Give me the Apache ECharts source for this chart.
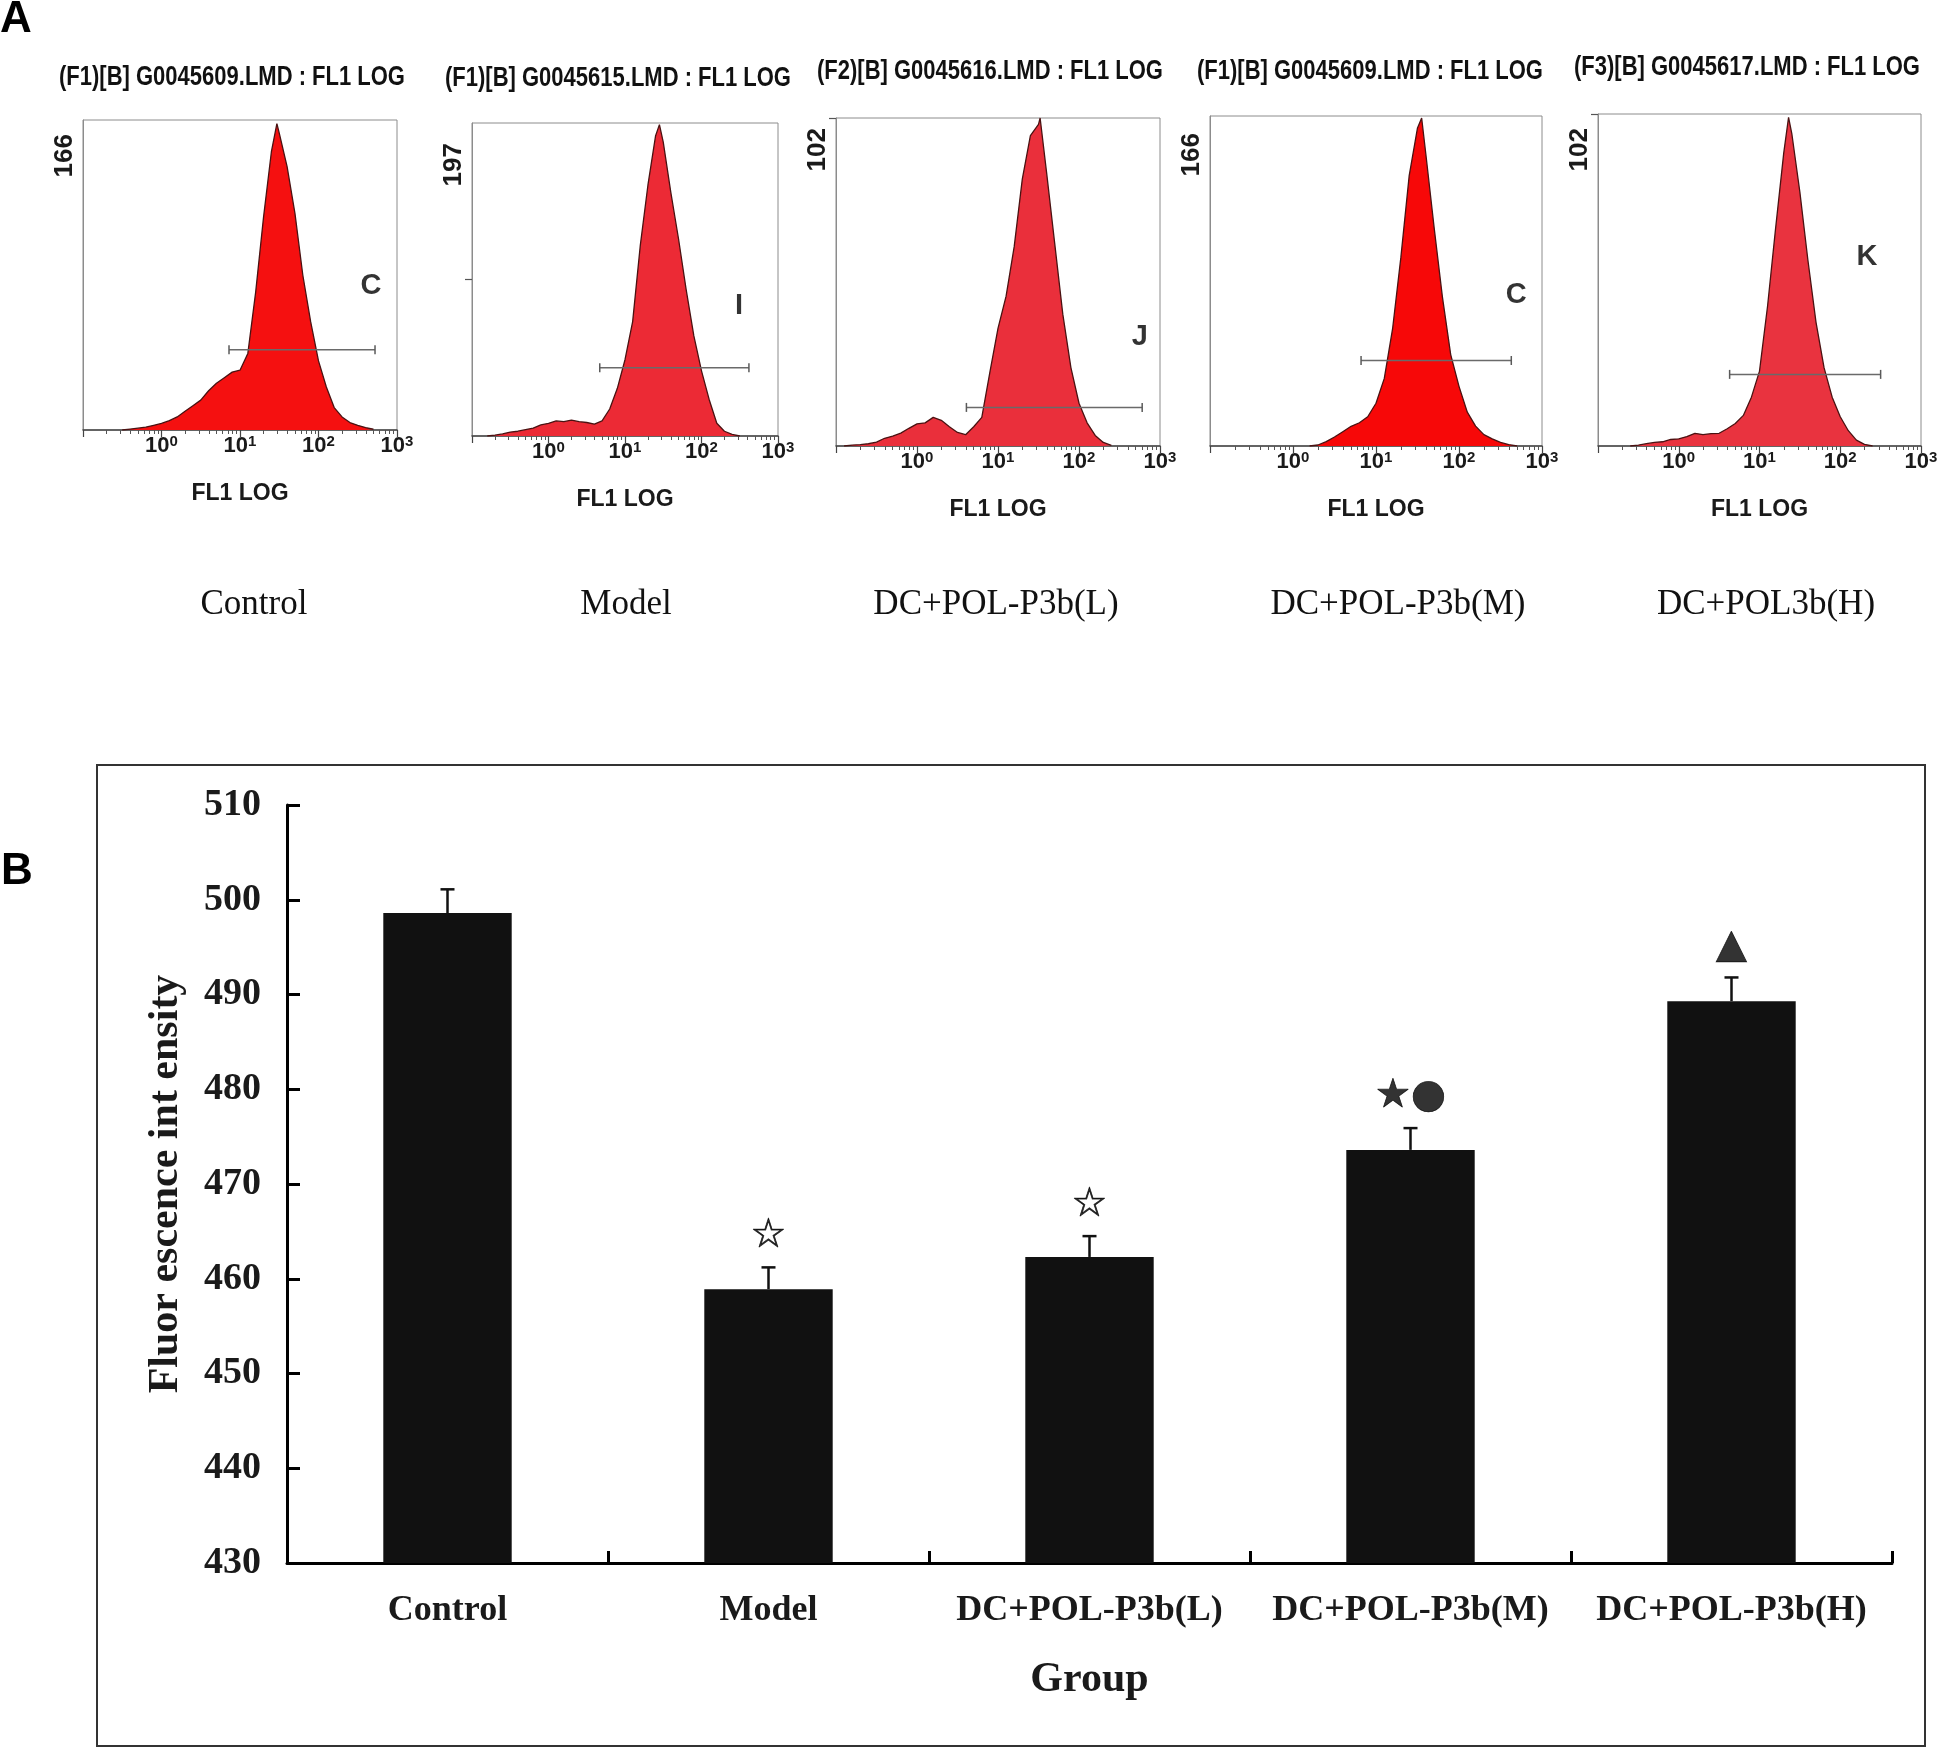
<!DOCTYPE html>
<html><head><meta charset="utf-8">
<script src="https://cdn.jsdelivr.net/npm/echarts@6/dist/echarts.min.js"></script>
<style>html,body{margin:0;padding:0;background:#fff}#c{width:1945px;height:1749px}</style>
</head><body><div id="c"></div>
<script>
// ---------- Panel A : flow cytometry histograms ----------
const HIST_TITLES = ['(F1)[B] G0045609.LMD : FL1 LOG', '(F1)[B] G0045615.LMD : FL1 LOG', '(F2)[B] G0045616.LMD : FL1 LOG', '(F1)[B] G0045609.LMD : FL1 LOG', '(F3)[B] G0045617.LMD : FL1 LOG'];
const HIST_GROUPS = ['Control', 'Model', 'DC+POL-P3b(L)', 'DC+POL-P3b(M)', 'DC+POL3b(H)'];
const HIST_YMAX = [166, 197, 102, 166, 102];
const HIST_LETTERS = ['C', 'I', 'J', 'C', 'K'];

// log10(FL1) positions and counts
const EXP_CONTROL = [-0.5,-0.4,-0.3,-0.2,-0.1,0,0.1,0.2,0.3,0.4,0.5,0.6,0.7,0.8,0.9,1.0,1.1,1.2,1.3,1.4,1.47,1.5,1.6,1.7,1.8,1.9,2.0,2.1,2.2,2.3,2.4,2.5,2.6,2.7];
const CNT_CONTROL = [0,0.5,1,1.5,2.5,3.5,5,7,10,13,16,21,25,28,31,32,41,74,114,149,164,159,141,116,83,58,37,23,12,7,4,2.5,1.3,0.4];
const EXP_MODEL = [-0.8,-0.7,-0.6,-0.5,-0.4,-0.3,-0.2,-0.1,0,0.1,0.2,0.3,0.4,0.5,0.6,0.7,0.8,0.9,1.0,1.1,1.2,1.3,1.4,1.45,1.5,1.6,1.7,1.8,1.9,2.0,2.1,2.2,2.3,2.4,2.5];
const CNT_MODEL = [0,0.5,1.3,2.5,3,4,5,7,8,9.5,9,10,9,8.5,7.5,9.5,17,30,48,72,120,158,189,196,185,153,124,92,63,41,23,8,3,1,0];
const EXP_LOW = [-0.9,-0.8,-0.7,-0.6,-0.5,-0.4,-0.3,-0.2,-0.1,0,0.1,0.2,0.3,0.4,0.5,0.6,0.7,0.8,0.9,1.0,1.1,1.2,1.3,1.4,1.5,1.52,1.6,1.7,1.8,1.9,2.0,2.1,2.2,2.3,2.4];
const CNT_LOW = [0,0.3,0.4,0.7,1.2,2.4,3.1,4,5.5,6.9,7.2,8.9,8,6,4.2,3.5,6,8.9,23,36.6,46.6,62,83,96.5,100,102,85,63,41,24.4,13.3,7.2,3.3,1.1,0.2];
const EXP_MID = [0.2,0.3,0.4,0.5,0.6,0.7,0.8,0.9,1.0,1.1,1.2,1.3,1.4,1.5,1.55,1.6,1.7,1.8,1.9,2.0,2.1,2.2,2.3,2.4,2.5,2.6,2.7];
const CNT_MID = [0,0.5,2.2,4.5,7.2,9.9,11.7,14.7,21.5,34,59,95,136,160,165,147,110,75,46,30,17,10,5.7,3.6,1.8,0.7,0];
const EXP_HIGH = [-0.6,-0.5,-0.4,-0.3,-0.2,-0.1,0,0.1,0.2,0.3,0.4,0.5,0.6,0.7,0.8,0.9,1.0,1.1,1.2,1.3,1.36,1.4,1.5,1.6,1.7,1.8,1.9,2.0,2.1,2.2,2.3,2.4];
const CNT_HIGH = [0,0.3,0.7,1.1,1.3,2,2.2,2.9,3.9,3.5,3.8,3.9,5.3,6.9,9.4,15,23,43,67,90,101,96,78,57,38,24,15,9,4.7,1.8,0.5,0];

const HIST_EXP = [EXP_CONTROL, EXP_MODEL, EXP_LOW, EXP_MID, EXP_HIGH];
const HIST_CNT = [CNT_CONTROL, CNT_MODEL, CNT_LOW, CNT_MID, CNT_HIGH];

// gate markers (log10 start/end, count level) and letter annotations
const GATE_EXP = [[0.86, 2.72], [0.67, 2.62], [0.61, 2.78], [0.82, 2.63], [0.63, 2.50]];
const GATE_CNT = [43, 43, 12, 43, 22];
const LETTER_EXP = [2.67, 2.49, 2.75, 2.69, 2.33];
const LETTER_CNT = [77, 82, 34, 76, 58];
const Y_TICKS = [[], [98.5], [102], [], [102]];

// ---------- Panel B : bar chart ----------
const GROUPS = ['Control', 'Model', 'DC+POL-P3b(L)', 'DC+POL-P3b(M)', 'DC+POL-P3b(H)'];
const MEANS = [498.6, 458.9, 462.3, 473.6, 489.3];
const ERRS = [2.5, 2.3, 2.2, 2.3, 2.5];
const MARKS = ['', '\u2606', '\u2606', '\u2605\u25CF', '\u25B2'];
const Y_MIN = 430, Y_MAX = 510, Y_STEP = 10;

// ---------- layout ----------
const HIST_GRID = [
  {left: 83, top: 120, width: 314, height: 310},
  {left: 472, top: 123, width: 306, height: 313},
  {left: 836, top: 118, width: 324, height: 328},
  {left: 1210, top: 116, width: 332, height: 330},
  {left: 1598, top: 114, width: 323, height: 332}
];
const HIST_COLORS = ['#f51010', '#ec2a35', '#ea2f3b', '#f70808', '#e9333f'];
const TITLE_POS = [[232, 77], [618, 78], [990, 71], [1370, 71], [1747, 67]];
const GROUP_X = [254, 626, 996, 1398, 1766];
const YLAB_PAD = [14, 20, 10, 17, 14];

const SANS = 'Liberation Sans, Arial, sans-serif';
const SERIF = 'Liberation Serif, Times New Roman, serif';

const grids = [], xAxes = [], yAxes = [], series = [], graphics = [];

HIST_GRID.forEach((g, i) => {
  grids.push(Object.assign({show: true, borderColor: '#8c8c8c', borderWidth: 1, backgroundColor: 'transparent'}, g));
  xAxes.push({
    type: 'log', logBase: 10, min: 0.1, max: 1000, gridIndex: i,
    name: 'FL1 LOG', nameLocation: 'middle', nameGap: 52,
    nameTextStyle: {fontFamily: SANS, fontWeight: 'bold', fontSize: 23, color: '#1a1a1a'},
    axisLine: {lineStyle: {color: '#444', width: 1.5}},
    axisTick: {show: true, length: 7, lineStyle: {color: '#444', width: 1.2}},
    minorTick: {show: true, splitNumber: 9, length: 4, lineStyle: {color: '#555', width: 1}},
    splitLine: {show: false}, minorSplitLine: {show: false},
    axisLabel: {
      margin: 4,
      formatter: v => {
        const e = Math.round(Math.log10(v));
        return e < 0 ? '' : '{b|10}{s|' + e + '}';
      },
      rich: {
        b: {fontFamily: SANS, fontWeight: 'bold', fontSize: 22, color: '#1a1a1a', lineHeight: 24},
        s: {fontFamily: SANS, fontWeight: 'bold', fontSize: 15, color: '#1a1a1a', verticalAlign: 'top', lineHeight: 24, padding: [0, 0, 10, 0]}
      }
    }
  });
  yAxes.push({
    type: 'value', min: 0, max: HIST_YMAX[i], gridIndex: i,
    axisLine: {show: true, lineStyle: {color: '#8c8c8c', width: 1}},
    splitLine: {show: false},
    axisTick: {show: Y_TICKS[i].length > 0, customValues: Y_TICKS[i], length: 7, lineStyle: {color: '#555', width: 1.2}},
    axisLabel: {
      customValues: [HIST_YMAX[i]],
      formatter: v => (Math.abs(v - HIST_YMAX[i]) < 1e-6 ? String(HIST_YMAX[i]) : ''),
      rotate: 90, align: 'right', verticalAlign: 'bottom', margin: 5,
      padding: [0, YLAB_PAD[i], 0, 0],
      fontFamily: SANS, fontWeight: 'bold', fontSize: 26, color: '#1a1a1a'
    }
  });
  series.push({
    type: 'line', xAxisIndex: i, yAxisIndex: i, showSymbol: false, symbol: 'none',
    data: HIST_EXP[i].map((e, k) => [Math.pow(10, e), HIST_CNT[i][k]]),
    lineStyle: {color: '#4a1212', width: 1.3},
    areaStyle: {color: HIST_COLORS[i], opacity: 1},
    z: 2, silent: true
  });
  series.push({
    type: 'line', xAxisIndex: i, yAxisIndex: i,
    data: GATE_EXP[i].map(e => [Math.pow(10, e), GATE_CNT[i]]),
    symbol: 'rect', symbolSize: [1.5, 9], showSymbol: true,
    itemStyle: {color: '#5a5a5a'}, lineStyle: {color: '#6a6a6a', width: 1.5},
    z: 4, silent: true
  });
  series.push({
    type: 'scatter', xAxisIndex: i, yAxisIndex: i, symbolSize: 0,
    itemStyle: {color: '#000'},
    data: [[Math.pow(10, LETTER_EXP[i]), LETTER_CNT[i]]],
    label: {show: true, position: 'inside', formatter: () => HIST_LETTERS[i],
      fontFamily: SANS, fontWeight: 'bold', fontSize: 29, color: '#000',
      textBorderWidth: 0, textBorderColor: 'transparent'},
    z: 5, silent: true
  });
  graphics.push({type: 'text', x: TITLE_POS[i][0], y: TITLE_POS[i][1], scaleY: 1.25,
    style: {text: HIST_TITLES[i], font: 'bold 22px ' + SANS, fill: '#111', align: 'center', verticalAlign: 'middle'}});
  graphics.push({type: 'text', x: GROUP_X[i], y: 605,
    style: {text: HIST_GROUPS[i], font: '35px ' + SERIF, fill: '#111', align: 'center', verticalAlign: 'middle'}});
});

// Panel B grid
const B = 5;
grids.push({left: 287, top: 805, width: 1605, height: 758});
xAxes.push({
  type: 'category', gridIndex: B, data: GROUPS, boundaryGap: true,
  name: 'Group', nameLocation: 'middle', nameGap: 96,
  nameTextStyle: {fontFamily: SERIF, fontWeight: 'bold', fontSize: 42, color: '#1a1a1a'},
  axisLine: {lineStyle: {color: '#000', width: 3}},
  axisTick: {show: true, inside: true, interval: 0, length: 12, lineStyle: {color: '#000', width: 3}},
  axisLabel: {interval: 0, hideOverlap: false, margin: 30, fontFamily: SERIF, fontWeight: 'bold', fontSize: 36, color: '#1a1a1a'}
});
yAxes.push({
  type: 'value', gridIndex: B, min: Y_MIN, max: Y_MAX, interval: Y_STEP,
  name: 'Fluor escence int ensity', nameLocation: 'middle', nameGap: 100,
  nameTextStyle: {fontFamily: SERIF, fontWeight: 'bold', fontSize: 42, color: '#1a1a1a'},
  axisLine: {show: true, lineStyle: {color: '#000', width: 3}},
  axisTick: {show: true, inside: true, length: 13, lineStyle: {color: '#000', width: 3}},
  splitLine: {show: false},
  axisLabel: {margin: 26, fontFamily: SERIF, fontWeight: 'bold', fontSize: 38, color: '#1a1a1a'}
});
series.push({
  type: 'bar', xAxisIndex: B, yAxisIndex: B, data: MEANS, barWidth: '40%',
  itemStyle: {color: '#111'}, silent: true, z: 2
});
series.push({
  type: 'custom', xAxisIndex: B, yAxisIndex: B, silent: true, z: 3,
  data: MEANS.map((m, i) => [i, m, ERRS[i]]),
  renderItem: (params, api) => {
    const x = api.value(0), m = api.value(1), e = api.value(2);
    const p0 = api.coord([x, m]), p1 = api.coord([x, m + e]);
    const st = {stroke: '#111', lineWidth: 2.5};
    return {type: 'group', children: [
      {type: 'line', shape: {x1: p0[0], y1: p0[1], x2: p1[0], y2: p1[1]}, style: st},
      {type: 'line', shape: {x1: p1[0] - 7, y1: p1[1], x2: p1[0] + 7, y2: p1[1]}, style: st}
    ]};
  }
});
series.push({
  type: 'scatter', xAxisIndex: B, yAxisIndex: B, symbolSize: 0, silent: true, z: 4,
  itemStyle: {color: '#000'},
  data: MEANS.map((m, i) => [i, m + ERRS[i]]),
  label: {show: true, position: 'inside', offset: [0, -31],
    formatter: p => MARKS[p.dataIndex],
    fontFamily: 'DejaVu Sans', fontWeight: 'bold', fontSize: 40, color: '#000',
    textBorderWidth: 0.8, textBorderColor: '#000'}
});

graphics.push({type: 'rect', shape: {x: 97, y: 765, width: 1828, height: 981},
  style: {fill: 'none', stroke: '#333', lineWidth: 2}, z: -1});
graphics.push({type: 'text', x: 16, y: 20, style: {text: 'A', font: 'bold 44px ' + SANS, fill: '#000', align: 'center', verticalAlign: 'middle'}});
graphics.push({type: 'text', x: 17, y: 872, style: {text: 'B', font: 'bold 44px ' + SANS, fill: '#000', align: 'center', verticalAlign: 'middle'}});

const chart = echarts.init(document.getElementById('c'), null, {renderer: 'canvas'});
chart.setOption({
  backgroundColor: '#fff', animation: false,
  grid: grids, xAxis: xAxes, yAxis: yAxes, series: series, graphic: graphics
});
</script></body></html>
